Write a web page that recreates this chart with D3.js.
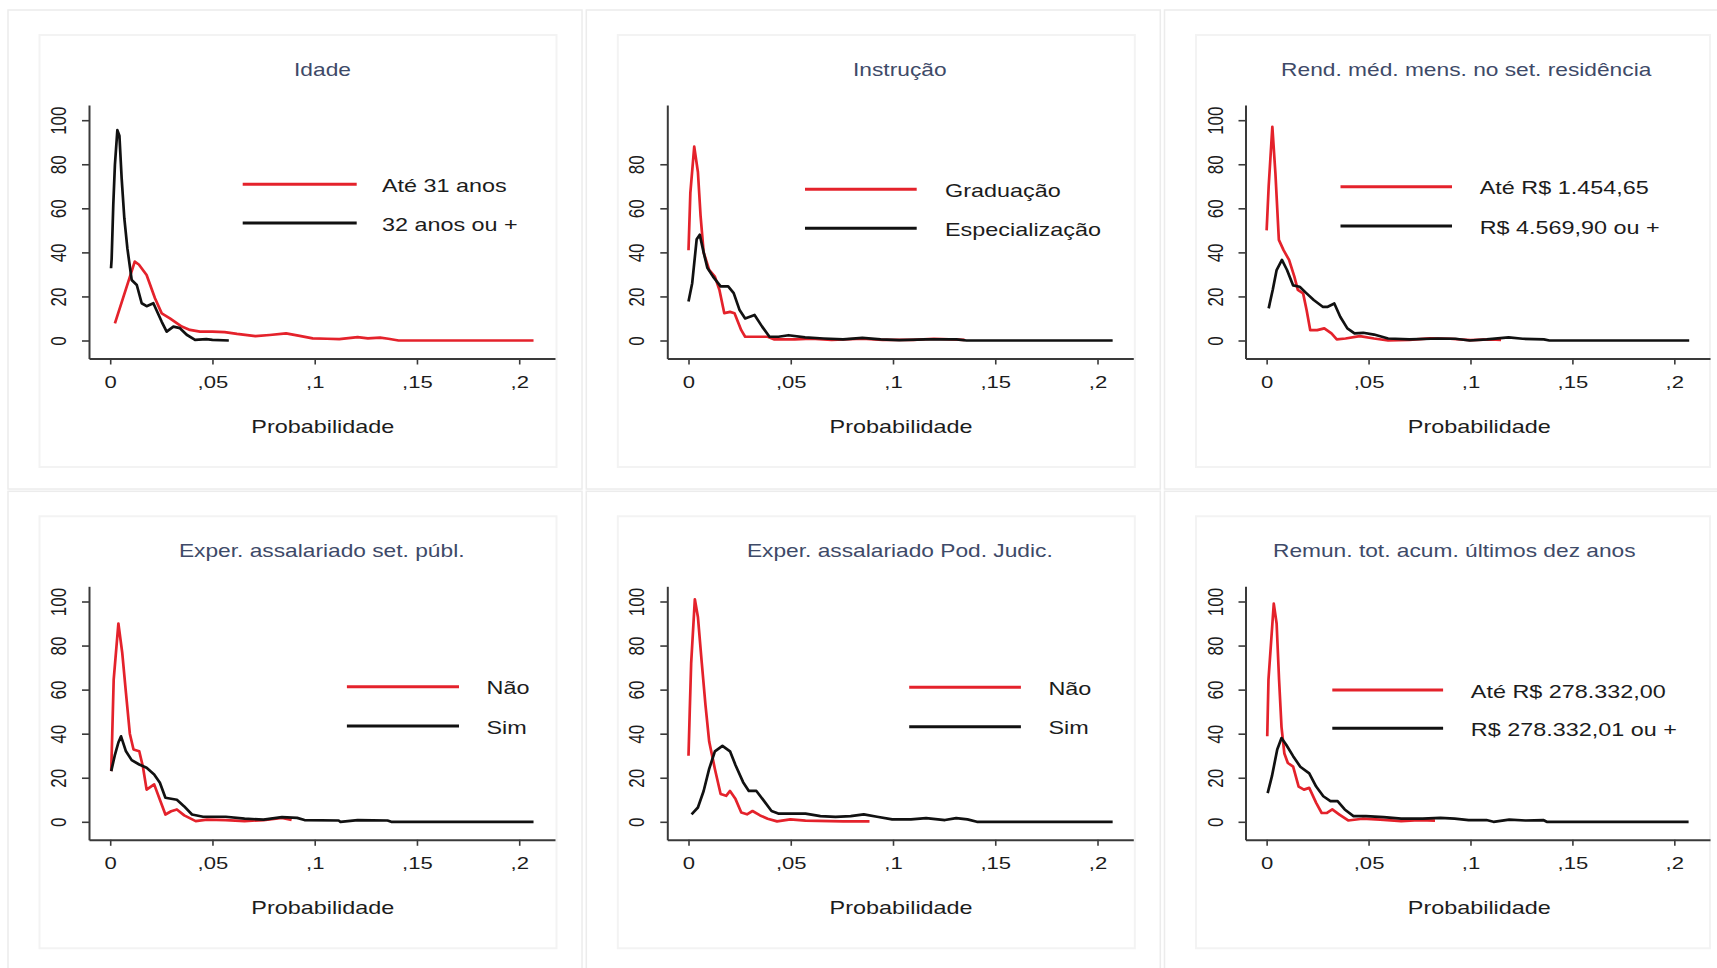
<!DOCTYPE html>
<html>
<head>
<meta charset="utf-8">
<script src="https://cdn.jsdelivr.net/npm/d3@7"></script>
<style>
  html, body { margin: 0; padding: 0; background: #ffffff; }
  svg { display: block; }
  text { font-family: "Liberation Sans", Arial, sans-serif; }
</style>
</head>
<body>
<svg id="chart" width="1717" height="968"></svg>
<script>
// ---------------- DATA ----------------
const titles = [
  "Idade",
  "Instrução",
  "Rend. méd. mens. no set. residência",
  "Exper. assalariado set. públ.",
  "Exper. assalariado Pod. Judic.",
  "Remun. tot. acum. últimos dez anos"
];
const legendRed = ["Até 31 anos", "Graduação", "Até R$ 1.454,65", "Não", "Não", "Até R$ 278.332,00"];
const legendBlack = ["32 anos ou +", "Especialização", "R$ 4.569,90 ou +", "Sim", "Sim", "R$ 278.332,01 ou +"];

const xTickValues = [0, 0.05, 0.1, 0.15, 0.2];
const xTickLabels = ["0", ",05", ",1", ",15", ",2"];
const yTicks100 = [0, 20, 40, 60, 80, 100];
const yTicks80 = [0, 20, 40, 60, 80];
const xAxisTitle = "Probabilidade";

// Panel 1: Idade
const idadeRed = [[0.0023,7.8],[0.012,35.8],[0.014,34.5],[0.0178,29.7],[0.0219,19.2],[0.0252,12.3],[0.0292,10],[0.035,6.3],[0.039,4.8],[0.0439,4],[0.05,4],[0.056,3.8],[0.062,3],[0.071,2],[0.078,2.5],[0.086,3.2],[0.092,2.2],[0.099,1],[0.106,0.8],[0.112,0.6],[0.121,1.5],[0.126,1],[0.132,1.3],[0.136,0.8],[0.141,0],[0.207,0]];
const idadeBlack = [[0.0004,32.8],[0.0007,37],[0.0015,61.5],[0.0023,79.7],[0.0035,95.5],[0.0045,93],[0.0056,73.6],[0.0069,55.5],[0.0084,41.8],[0.0105,27.5],[0.013,25.2],[0.0154,16.9],[0.0178,15.6],[0.0211,16.9],[0.0252,8.5],[0.0276,4],[0.0309,6.3],[0.0341,5.6],[0.0374,2.6],[0.0415,0.3],[0.047,0.6],[0.05,0.3],[0.058,0]];

// Panel 2: Instrução
const instrRed = [[0,41],[0.0009,67],[0.0028,88],[0.0046,76.5],[0.0059,56.6],[0.0074,40],[0.0101,32],[0.0129,29],[0.0151,23],[0.0175,12.4],[0.0203,13],[0.0225,12.4],[0.0258,4.7],[0.0277,1.7],[0.033,1.7],[0.0387,1.7],[0.042,0.5],[0.052,0.5],[0.06,0.8],[0.07,0.3],[0.085,0.8],[0.095,0.3],[0.11,0.3],[0.12,0.8],[0.135,0.3]];
const instrBlack = [[0,17.7],[0.0018,26],[0.004,46],[0.0055,48],[0.0074,40],[0.0092,33],[0.012,29],[0.0157,24.6],[0.0194,24.6],[0.0221,21.5],[0.0249,14],[0.0277,10],[0.0323,11.6],[0.036,6.3],[0.0396,1.7],[0.044,1.7],[0.0489,2.4],[0.057,1.4],[0.066,0.9],[0.0756,0.5],[0.085,1.2],[0.094,0.5],[0.103,0.2],[0.116,0.5],[0.1235,0.5],[0.131,0.5],[0.136,0],[0.2074,0]];

// Panel 3: Rend. méd. mens.
const rendRed = [[0,50],[0.001,70],[0.0028,97],[0.0043,76],[0.006,45.7],[0.0083,41],[0.011,36.6],[0.0136,29],[0.0153,23],[0.0179,21.4],[0.0196,13.8],[0.0214,4.7],[0.0248,4.7],[0.0283,5.5],[0.0318,3.2],[0.0344,0.5],[0.0387,0.9],[0.0457,2],[0.0527,0.9],[0.0596,0],[0.07,0.3],[0.08,1],[0.09,0.8],[0.1,0.2],[0.11,0.5],[0.115,0.3]];
const rendBlack = [[0.001,14.6],[0.003,23],[0.0049,32],[0.0075,36.6],[0.01,32],[0.013,25],[0.0162,24.4],[0.0196,21.4],[0.0231,18.4],[0.0275,15.3],[0.03,15.3],[0.0332,16.8],[0.0361,10.8],[0.0396,5.5],[0.0431,3.2],[0.0474,3.5],[0.0527,2.7],[0.0596,0.9],[0.07,0.5],[0.084,0.9],[0.0926,0.8],[0.0996,0],[0.108,0.5],[0.1187,1.4],[0.1256,0.8],[0.136,0.5],[0.1387,0],[0.2073,0]];

// Panel 4: Exper. set. públ.
const publRed = [[0.0005,23],[0.001,40],[0.0017,64.5],[0.004,90],[0.0059,76.6],[0.0077,58.5],[0.0096,40],[0.0114,32.8],[0.0142,32],[0.016,25],[0.0178,14.6],[0.0215,17],[0.0243,10],[0.027,3.3],[0.0298,4.8],[0.0326,5.6],[0.0362,2.9],[0.0418,0.3],[0.0473,1],[0.0565,0.8],[0.0657,0.3],[0.075,0.8],[0.084,1.8],[0.0887,0.8]];
const publBlack = [[0.0005,23],[0.0022,30],[0.004,36],[0.0053,38.8],[0.0077,32],[0.0105,28],[0.0142,26],[0.0178,24.5],[0.0215,21.5],[0.0243,17.7],[0.027,10.9],[0.0326,10],[0.0362,7],[0.04,3.3],[0.0454,2.3],[0.0565,2.3],[0.0657,1.4],[0.075,1],[0.084,2.1],[0.0914,1.8],[0.095,0.8],[0.1117,0.6],[0.1126,0],[0.121,0.8],[0.1356,0.6],[0.1374,0],[0.207,0]];

// Panel 5: Exper. Pod. Judic.
const judicRed = [[0,30],[0.0006,50],[0.0013,72],[0.0031,101],[0.0046,93],[0.0065,72],[0.0083,53],[0.0101,36.5],[0.0129,24],[0.0157,12.6],[0.0184,11.8],[0.0203,14],[0.023,10.3],[0.0258,4.2],[0.0286,3.4],[0.0313,4.9],[0.035,2.9],[0.0387,1.4],[0.0433,0.2],[0.0498,1.1],[0.0572,0.5],[0.0756,0.2],[0.0885,0.2]];
const judicBlack = [[0.0015,3.4],[0.0046,6.5],[0.0074,14],[0.0101,24],[0.0129,32],[0.0166,34.5],[0.0203,32],[0.023,25.7],[0.0267,18],[0.0295,14],[0.0332,14],[0.0369,9.5],[0.0406,4.9],[0.0442,3.7],[0.0516,3.7],[0.0572,3.7],[0.0645,2.6],[0.0719,2.2],[0.0793,2.6],[0.0857,3.4],[0.0922,2.3],[0.0996,1.1],[0.1088,1.1],[0.1162,1.7],[0.1254,0.8],[0.1309,1.7],[0.1364,1.1],[0.141,0],[0.2074,0]];

// Panel 6: Remun. tot. acum.
const remunRed = [[0.0003,38.8],[0.0009,64.5],[0.0035,99],[0.0049,90],[0.0061,64.5],[0.0073,43],[0.0087,31],[0.0104,26.7],[0.013,25],[0.0157,16],[0.0183,14.6],[0.0209,15.4],[0.0243,8.6],[0.027,4],[0.0296,4],[0.0322,5.6],[0.0357,3.3],[0.04,0.6],[0.047,1.4],[0.0557,1],[0.066,0.3],[0.0748,0.8],[0.0826,0.5]];
const remunBlack = [[0.0005,13],[0.0026,20.7],[0.0052,32.8],[0.0073,38],[0.0096,35],[0.013,29.8],[0.0165,25],[0.0209,22],[0.0243,16],[0.0278,11.6],[0.0313,9.4],[0.0348,9.4],[0.0383,5.6],[0.0426,2.6],[0.0487,2.6],[0.0574,2.1],[0.066,1.4],[0.0765,1.4],[0.0852,1.8],[0.0922,1.4],[0.0991,0.8],[0.1078,0.8],[0.1113,0],[0.119,1],[0.127,0.6],[0.1357,0.8],[0.1374,0],[0.207,0]];

const redSeries = [idadeRed, instrRed, rendRed, publRed, judicRed, remunRed];
const blackSeries = [idadeBlack, instrBlack, rendBlack, publBlack, judicBlack, remunBlack];
const yTickSets = [yTicks100, yTicks80, yTicks100, yTicks100, yTicks100, yTicks100];

// ---------------- LAYOUT (positions / styles) ----------------
const W = 1717, H = 968;
const colX = [0, 578.3, 1156.5];
const rowY = [0, 481.3];
const SX = 1.3; // horizontal stretch of the original picture
const titleCx = [322.5, 321.5, 309.7, 321.7, 321.5, 297.8];
const legendLayout = [
  {x1: 242.7, x2: 356.7, y1: 184.3, y2: 223.0, tx: 381.9},
  {x1: 226.7, x2: 338.4, y1: 189.3, y2: 228.3, tx: 366.7},
  {x1: 184.0, x2: 295.5, y1: 186.7, y2: 226.0, tx: 323.2},
  {x1: 346.9, x2: 459.0, y1: 205.4, y2: 244.7, tx: 486.5},
  {x1: 330.9, x2: 442.6, y1: 206.0, y2: 245.4, tx: 470.1},
  {x1: 175.8, x2: 286.6, y1: 208.7, y2: 247.0, tx: 314.3}
];
const RED = "#e4222b", BLACK = "#111111", AXIS = "#3a3a3a", TXT = "#1c1c1c";

const svg = d3.select("#chart");
svg.append("rect").attr("width", W).attr("height", H).attr("fill", "#fff");

function stretchedText(g, x, y, str, opts) {
  return g.append("text")
    .attr("transform", `translate(${x},${y}) scale(${SX},1)`)
    .attr("text-anchor", opts.anchor || "middle")
    .attr("font-size", opts.size)
    .attr("fill", opts.fill || TXT)
    .text(str);
}

for (let i = 0; i < 6; i++) {
  const col = i % 3, row = Math.floor(i / 3);
  const g = svg.append("g").attr("transform", `translate(${colX[col]},${rowY[row]})`);

  // cell border and inner frame (very faint)
  g.append("rect").attr("x", 8).attr("y", 10).attr("width", 574).attr("height", 479)
    .attr("fill", "none").attr("stroke", "#ececec").attr("stroke-width", 1.5);
  g.append("rect").attr("x", 39.5).attr("y", 35).attr("width", col === 2 ? 514 : 517).attr("height", 432)
    .attr("fill", "#fff").attr("stroke", "#f3f3f3").attr("stroke-width", 2);

  const x = d3.scaleLinear().domain([-0.01037, 0.2175]).range([89, col === 2 ? 553.5 : 555]);
  const y = d3.scaleLinear().domain([-8.17, 106.9]).range([358.5, 105]);

  // x axis
  const xa = g.append("g").attr("transform", "translate(0,358.5)")
    .call(d3.axisBottom(x).tickValues(xTickValues).tickFormat((d, k) => xTickLabels[k]).tickSize(6).tickSizeOuter(0));
  xa.select(".domain").attr("stroke", AXIS).attr("stroke-width", 2);
  xa.selectAll(".tick line").attr("stroke", AXIS).attr("stroke-width", 1.6);
  xa.selectAll(".tick text")
    .attr("y", null).attr("dy", null)
    .attr("transform", `translate(0,29.5) scale(${SX},1)`)
    .attr("font-size", 17).attr("fill", TXT)
    .attr("font-family", "Liberation Sans, Arial, sans-serif");

  // y axis
  const ya = g.append("g").attr("transform", "translate(89,0)")
    .call(d3.axisLeft(y).tickValues(yTickSets[i]).tickFormat(d3.format("d")).tickSize(7).tickSizeOuter(0));
  ya.select(".domain").attr("stroke", AXIS).attr("stroke-width", 2);
  ya.selectAll(".tick line").attr("stroke", AXIS).attr("stroke-width", 1.6);
  ya.selectAll(".tick text")
    .attr("x", null).attr("dy", null)
    .attr("text-anchor", "middle")
    .attr("transform", `translate(-23,0) scale(${SX},1) rotate(-90)`)
    .attr("font-size", 17).attr("fill", TXT)
    .attr("font-family", "Liberation Sans, Arial, sans-serif");

  // density lines
  const line = d3.line().x(d => x(d[0])).y(d => y(d[1]));
  g.append("path").datum(redSeries[i]).attr("d", line)
    .attr("fill", "none").attr("stroke", RED).attr("stroke-width", 2.7).attr("stroke-linejoin", "round");
  g.append("path").datum(blackSeries[i]).attr("d", line)
    .attr("fill", "none").attr("stroke", BLACK).attr("stroke-width", 2.7).attr("stroke-linejoin", "round");

  // title
  stretchedText(g, titleCx[i], 75.5, titles[i], {size: 17.5, fill: "#3e4a68"});
  // x axis title
  stretchedText(g, 322.8, 433, xAxisTitle, {size: 18});

  // legend
  const L = legendLayout[i];
  g.append("line").attr("x1", L.x1).attr("x2", L.x2).attr("y1", L.y1).attr("y2", L.y1)
    .attr("stroke", RED).attr("stroke-width", 3);
  g.append("line").attr("x1", L.x1).attr("x2", L.x2).attr("y1", L.y2).attr("y2", L.y2)
    .attr("stroke", BLACK).attr("stroke-width", 3);
  stretchedText(g, L.tx, L.y1 + 7.5, legendRed[i], {size: 18, anchor: "start"});
  stretchedText(g, L.tx, L.y2 + 7.5, legendBlack[i], {size: 18, anchor: "start"});
}
</script>
</body>
</html>
